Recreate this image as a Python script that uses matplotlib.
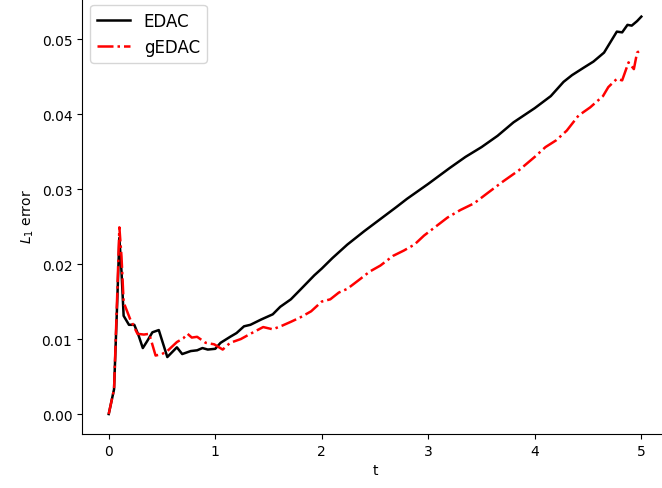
import matplotlib
matplotlib.use("Agg")
import matplotlib.pyplot as plt

t_edac = [0.0, 0.05, 0.08, 0.1, 0.12, 0.14, 0.19, 0.24, 0.28, 0.32, 0.36, 0.41, 0.47, 0.55,
          0.64, 0.69, 0.77, 0.83, 0.88, 0.93, 1.0, 1.05, 1.14, 1.2, 1.27, 1.33, 1.43, 1.54,
          1.61, 1.71, 1.8, 1.93, 2.0, 2.1, 2.24, 2.4, 2.55, 2.7, 2.8, 3.0, 3.2, 3.35, 3.5,
          3.65, 3.8, 4.0, 4.15, 4.27, 4.35, 4.46, 4.55, 4.65, 4.71, 4.77, 4.82, 4.87, 4.91,
          4.96, 5.0]
err_edac = [0.0, 0.0033, 0.015, 0.0235, 0.019, 0.0131, 0.0119, 0.0119, 0.0105, 0.0088, 0.0097,
            0.0109, 0.0112, 0.0076, 0.0089, 0.0080, 0.0084, 0.0085, 0.0088, 0.0086, 0.0087,
            0.0095, 0.0103, 0.0108, 0.0117, 0.0119, 0.0126, 0.0133, 0.0143, 0.0153, 0.0166,
            0.0185, 0.0194, 0.0208, 0.0226, 0.0244, 0.0260, 0.0276, 0.0287, 0.0307, 0.0328,
            0.0343, 0.0356, 0.0371, 0.0389, 0.0408, 0.0424, 0.0443, 0.0452, 0.0462, 0.0470,
            0.0482, 0.0496, 0.0510, 0.0509, 0.0519, 0.0518, 0.0524, 0.0530]

t_gedac = [0.0, 0.05, 0.08, 0.1, 0.12, 0.14, 0.2, 0.27, 0.33, 0.38, 0.44, 0.5, 0.55, 0.64,
           0.7, 0.74, 0.78, 0.83, 0.91, 0.99, 1.07, 1.14, 1.24, 1.33, 1.45, 1.54, 1.63, 1.71,
           1.8, 1.9, 2.0, 2.08, 2.16, 2.24, 2.36, 2.45, 2.55, 2.67, 2.77, 2.87, 2.96, 3.07,
           3.18, 3.3, 3.43, 3.55, 3.7, 3.85, 4.0, 4.1, 4.2, 4.3, 4.41, 4.52, 4.64, 4.69,
           4.77, 4.82, 4.88, 4.93, 4.96, 5.0]
err_gedac = [0.0, 0.0033, 0.016, 0.0249, 0.021, 0.0149, 0.0127, 0.0107, 0.0106, 0.0107,
             0.0078, 0.0080, 0.0084, 0.0096, 0.0101, 0.0107, 0.0102, 0.0103, 0.0095, 0.0093,
             0.0086, 0.0095, 0.0100, 0.0107, 0.0116, 0.0113, 0.0118, 0.0123, 0.0129, 0.0137,
             0.0150, 0.0153, 0.0162, 0.0167, 0.0180, 0.0190, 0.0198, 0.0211, 0.0218, 0.0226,
             0.0238, 0.0250, 0.0262, 0.0272, 0.0281, 0.0294, 0.0310, 0.0325, 0.0343, 0.0356,
             0.0365, 0.0378, 0.0398, 0.0409, 0.0424, 0.0436, 0.0447, 0.0445, 0.0469, 0.0460,
             0.0482, 0.0486]

fig = plt.figure(figsize=(6.62, 4.89), dpi=100)
ax = fig.add_axes([0.124, 0.1106, 0.885, 0.894])
ax.plot(t_edac, err_edac, color="black", lw=1.8, label="EDAC")
ax.plot(t_gedac, err_gedac, color="red", lw=1.8, ls="-.", label="gEDAC")
ax.set_xlabel("t")
ax.set_ylabel("$L_1$ error")
ax.spines["top"].set_visible(False)
ax.spines["right"].set_visible(False)
ax.legend(loc="upper left", fontsize=12)
fig.savefig("out.png", dpi=100)
